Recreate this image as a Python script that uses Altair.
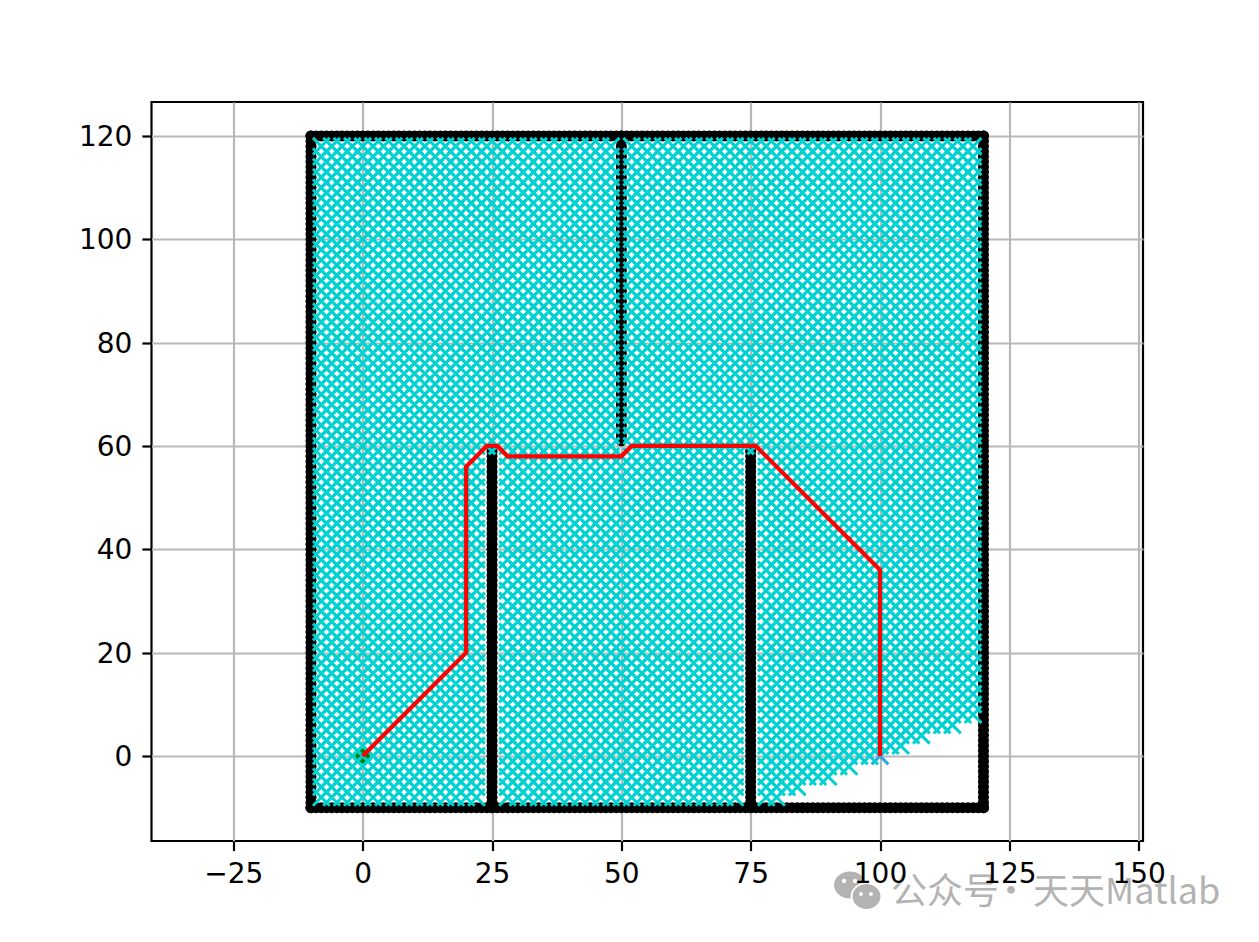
import altair as alt
import pandas as pd

# Obstacles: regular unit-spaced walls
border_span = list(range(-10, 121))
wall_25_y = list(range(-10, 60))
wall_75_y = list(range(-10, 60))
wall_50_y = list(range(61, 121))

# Visited nodes: 2-unit lattice
lattice_x = list(range(-8, 120, 2))
lattice_y = list(range(-8, 120, 2))
# lowest visited row, per column, along the lower-right edge
column_floor = {82: -6, 84: -6, 86: -4, 88: -4, 90: -4, 92: -2, 94: -2, 96: 0, 98: 0,
                100: 2, 102: 2, 104: 2, 106: 4, 108: 4, 110: 6, 112: 6, 114: 6, 116: 8, 118: 8}
# columns blocked by the walls: {column: (from y, to y)}
blocked_columns = {24: (-8, 58), 26: (-8, 58), 74: (-8, 58), 76: (-8, 58), 50: (60, 118)}

path_x = [0, 20, 20, 24, 26, 28, 50, 52, 76, 100, 100]
path_y = [0, 20, 56, 60, 60, 58, 58, 60, 60, 36, 0]
start_xy = (0, 0)
goal_xy = (100, 0)

x_ticks = [-25, 0, 25, 50, 75, 100, 125, 150]
y_ticks = [0, 20, 40, 60, 80, 100, 120]
x_domain = [-40.83, 150.84]
y_domain = [-16.45, 126.57]

obs = ([(x, -10) for x in border_span] + [(x, 120) for x in border_span]
       + [(-10, y) for y in border_span] + [(120, y) for y in border_span]
       + [(25, y) for y in wall_25_y] + [(75, y) for y in wall_75_y]
       + [(50, y) for y in wall_50_y])
obs_df = pd.DataFrame(obs, columns=["x", "y"])

visited = []
for cx in lattice_x:
    for cy in lattice_y:
        if cy < column_floor.get(cx, -8):
            continue
        if cx in blocked_columns and blocked_columns[cx][0] <= cy <= blocked_columns[cx][1]:
            continue
        visited.append((cx, cy))
vis_df = pd.DataFrame(visited, columns=["x", "y"])
path_df = pd.DataFrame({"x": path_x, "y": path_y, "order": range(len(path_x))})
start_df = pd.DataFrame({"x": [start_xy[0]], "y": [start_xy[1]]})
goal_df = pd.DataFrame({"x": [goal_xy[0]], "y": [goal_xy[1]]})

xsc = alt.Scale(domain=x_domain, nice=False, zero=False)
ysc = alt.Scale(domain=y_domain, nice=False, zero=False)
grid_x = alt.Axis(values=x_ticks, title=None, grid=True, gridColor="#b8b8b8", gridWidth=2.2,
                  labels=False, ticks=False, domain=False, orient="bottom", zindex=0)
grid_y = alt.Axis(values=y_ticks, title=None, grid=True, gridColor="#b8b8b8", gridWidth=2.2,
                  labels=False, ticks=False, domain=False, orient="left", zindex=0)
FONT = "DejaVu Sans"
main_x = alt.Axis(values=x_ticks, title=None, grid=False, orient="bottom", zindex=1, domain=False,
                  tickColor="black", tickWidth=2.2, tickSize=9.6, labelFont=FONT, labelFontSize=28,
                  labelColor="black", labelPadding=10, labelFlush=False, labelOverlap=False)
main_y = alt.Axis(values=y_ticks, title=None, grid=False, orient="left", zindex=1, domain=False,
                  tickColor="black", tickWidth=2.2, tickSize=9.6, labelFont=FONT, labelFontSize=28,
                  labelColor="black", labelPadding=10, labelOverlap=False, labelOffset=1.5)

X_SHAPE = "M-1,-1L1,1M-1,1L1,-1"
black = alt.Chart(obs_df).mark_circle(color="black", size=122, opacity=1).encode(
    x=alt.X("x:Q", scale=xsc, axis=grid_x), y=alt.Y("y:Q", scale=ysc, axis=grid_y))
start = alt.Chart(start_df).mark_circle(color="#008000", size=218, opacity=1).encode(
    x=alt.X("x:Q", scale=xsc, axis=None), y=alt.Y("y:Q", scale=ysc, axis=None))
goal = alt.Chart(goal_df).mark_point(shape=X_SHAPE, filled=False, color="#2fa6e6", strokeWidth=3.0,
                                     size=279, opacity=1).encode(
    x=alt.X("x:Q", scale=xsc, axis=None), y=alt.Y("y:Q", scale=ysc, axis=None))
cyan = alt.Chart(vis_df).mark_point(shape=X_SHAPE, filled=False, color="#00d2d2", strokeWidth=3.0,
                                    size=279, opacity=1).encode(
    x=alt.X("x:Q", scale=xsc, axis=None), y=alt.Y("y:Q", scale=ysc, axis=None))
red = alt.Chart(path_df).mark_line(color="#ff0000", strokeWidth=4.2).encode(
    x=alt.X("x:Q", scale=xsc, axis=None), y=alt.Y("y:Q", scale=ysc, axis=None), order="order:Q")

# Watermark (pixel positions relative to the plot area)
GREY = "#b3b3b3"
OX, OY = 151.5, 102
one = pd.DataFrame({"a": [0]})
def blob(px, py, rx, ry, color):
    size = (2 * rx) ** 2
    shape = f"M-1,0A1,{ry/rx:.3f} 0 1 1 1,0A1,{ry/rx:.3f} 0 1 1 -1,0Z"
    return alt.Chart(one).mark_point(shape=shape, filled=True, color=color, size=size, opacity=1).encode(
        x=alt.value(px - OX), y=alt.value(py - OY))
def label(text, px, align="left"):
    return alt.Chart(one).mark_text(text=text, font="Noto Sans CJK SC", fontSize=36, color=GREY,
                                    align=align, baseline="alphabetic").encode(
        x=alt.value(px - OX), y=alt.value(904 - OY))
wm = [blob(850, 885, 16, 13.5, GREY),
      blob(844, 881, 2.2, 2.2, "white"), blob(855, 881, 2.2, 2.2, "white"),
      blob(866.5, 896.5, 16, 14, "white"),
      blob(866.5, 896.5, 14, 12.5, GREY),
      blob(861, 894, 1.9, 1.9, "white"), blob(871, 894, 1.9, 1.9, "white"),
      label("公众号", 891), label("·", 1011, "center"), label("天天Matlab", 1033)]

top_axes = alt.Chart(path_df).mark_line(opacity=0).encode(
    x=alt.X("x:Q", scale=xsc, axis=main_x), y=alt.Y("y:Q", scale=ysc, axis=main_y))

chart = alt.layer(black, start, goal, cyan, red, *wm, top_axes).resolve_axis(
    x="independent", y="independent"
).properties(
    width=991.5, height=739,
    padding={"left": 143.5, "top": 94, "right": 100, "bottom": 90},
    autosize=alt.AutoSizeParams(type="none"),
    background="white",
).configure_view(stroke="black", strokeWidth=2.2)

chart.save("out.html", embed_options={"renderer": "svg", "actions": False})
